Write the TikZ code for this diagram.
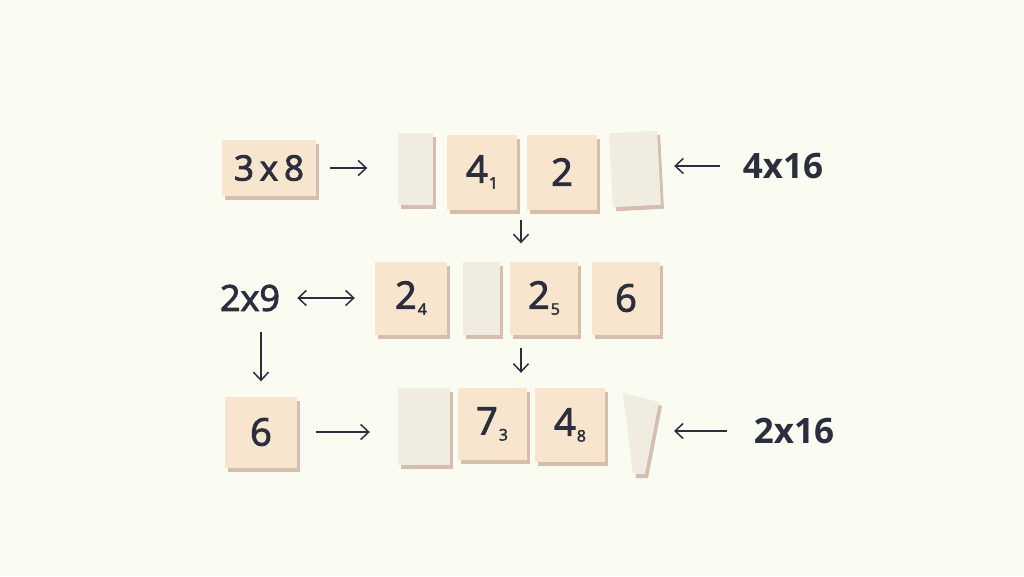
\documentclass[tikz,border=0pt]{standalone}
\usepackage{fontspec}
\setmainfont{Open Sans}
\newfontfamily\medfont[FakeBold=2.5]{Open Sans}
\usetikzlibrary{arrows.meta,shadows}

\definecolor{paper}{HTML}{FAFBF1}
\definecolor{tilefill}{HTML}{F8E5CD}
\definecolor{tileshade}{HTML}{D6BDAE}
\definecolor{blankfill}{HTML}{F0ECDF}
\definecolor{ink}{HTML}{2B2E3D}

\newcommand\low[1]{\kern1pt\raisebox{-6pt}{\fontsize{16}{16}\selectfont #1}}

\begin{document}
\begin{tikzpicture}[x=1pt,y=-1pt,
    >={Straight Barb[length=8pt,width=15pt]},
    tilebox/.style={fill=tilefill,text=ink,inner sep=0pt,
      font=\fontsize{38}{42}\selectfont\medfont,
      drop shadow={shadow xshift=3pt,shadow yshift=-4pt,fill=tileshade,opacity=1}},
    blankbox/.style={tilebox,fill=blankfill},
    sum/.style={text=ink,inner sep=0pt,font=\fontsize{36}{40}\selectfont\medfont},
    bigsum/.style={sum,font=\fontsize{35}{40}\selectfont\bfseries},
    link/.style={->,draw=ink,line width=1.5pt}]
    \useasboundingbox[fill=paper] (0,0) rectangle (1024,576);

    % first row
    \node[tilebox,minimum width=94pt,minimum height=56pt,
          font=\fontsize{35}{40}\selectfont\medfont]      (t38) at (269,168) {3\,x\,8};
    \node[blankbox,minimum width=35pt,minimum height=72pt] (b1)  at (415,169) {};
    \node[tilebox,minimum width=70pt,minimum height=75pt]  (t41) at (482,172) {4\low{1}};
    \node[tilebox,minimum width=70pt,minimum height=75pt]  (t2)  at (562,172) {2};
    \node[blankbox,minimum width=48pt,minimum height=74pt,rotate=3] (b2) at (635,169) {};
    \node[bigsum]                                          (s416) at (783,166) {4x16};

    % second row
    \node[sum]                                             (s29) at (250,298) {2x9};
    \node[tilebox,minimum width=72pt,minimum height=73pt]  (t24) at (411,298) {2\low{4}};
    \node[blankbox,minimum width=37pt,minimum height=73pt] (b3)  at (481,298) {};
    \node[tilebox,minimum width=68pt,minimum height=73pt]  (t25) at (544,298) {2\low{5}};
    \node[tilebox,minimum width=68pt,minimum height=73pt]  (t6a) at (626,298) {6};

    % third row
    \node[tilebox,minimum width=72pt,minimum height=71pt]  (t6b) at (261,432) {6};
    \node[blankbox,minimum width=52pt,minimum height=77pt] (b4)  at (424,426) {};
    \node[tilebox,minimum width=69pt,minimum height=72pt]  (t73) at (492,424) {7\low{3}};
    \node[tilebox,minimum width=70pt,minimum height=74pt]  (t48) at (570,425) {4\low{8}};
    \fill[tileshade] (626,397) -- (662,406) -- (648,478) -- (636,478) -- cycle;
    \fill[blankfill] (623,393) -- (659,402) -- (645,474) -- (633,474) -- cycle;
    \coordinate (b5) at (652,431);
    \node[bigsum]                                          (s216) at (794,431) {2x16};

    % connectors
    \coordinate (d1) at (521,220);
    \coordinate (d2) at (521,348);
    \draw[link,shorten <=14pt,shorten >=30pt] (t38) -- (t38 -| b1.west);
    \draw[link,shorten <=23pt,shorten >=15pt] (s416) -- (s416 -| b2.east);
    \draw[link,shorten >=18pt] (d1) -- (d1 |- t25.north);
    \draw[link,<->,shorten <=17pt,shorten >=20pt] (s29) -- (t24);
    \draw[link,shorten <=21pt,shorten >=15pt] (s29.south -| t6b.north) -- (t6b.north);
    \draw[link,shorten >=15pt] (d2) -- (d2 |- t73.north);
    \draw[link,shorten <=19pt,shorten >=28pt] (t6b) -- (t6b -| b4.west);
    \draw[link,shorten <=27pt,shorten >=22pt] (s216) -- (b5);
\end{tikzpicture}
\end{document}
